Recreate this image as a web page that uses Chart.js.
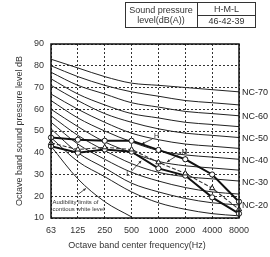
<!DOCTYPE html>
<html><head><meta charset="utf-8">
<script src="https://cdn.jsdelivr.net/npm/chart.js@4"></script>
<style>html,body{margin:0;padding:0;background:#fff;overflow:hidden}#wrap{width:270px;height:257px;position:relative}</style>
</head><body><div id="wrap"><canvas id="c" width="270" height="257"></canvas></div>
<script>
// ---- data ----
const freqLabels = ['63','125','250','500','1000','2000','4000','8000'];
const yTicks = [10,20,30,40,50,60,70,80,90];
const nc70 = [83,79,75,72,71,70,69,68];
const nc65 = [80,75,71,68,66,64,63,62];
const nc60 = [77,71,67,63,61,59,58,57];
const nc55 = [74,67,62,58,56,54,53,52];
const nc50 = [71,64,58,54,51,49,48,47];
const nc45 = [67,60,54,49,46,44,43,42];
const nc40 = [64,56,50,45,41,39,38,37];
const nc35 = [60,52,45,40,36,34,33,32];
const nc30 = [57,48,41,35,31,29,28,27];
const nc25 = [54,44,37,31,27,24,22,21];
const nc20 = [51,40,33,26,22,19,17,16];
const nc15 = [47,36,29,22,17,14,12,11];
const seriesH = [47,46,45.5,45.5,41.3,37,30,17.5];
const seriesM = [44.5,41.5,42.5,41.5,35.6,30.5,23.7,14];
const seriesL = [43,40,41.5,40.5,32.8,29.5,19.5,12];
const audibility = [43,28,17.5,10.5,null,null,null,null];
const ncLabels = ['NC-70','NC-60','NC-50','NC-40','NC-30','NC-20'];
const ncLabelCurves = [nc70,nc60,nc50,nc40,nc30,nc20];
const tableLeft = ['Sound pressure','level(dB(A))'];
const tableRight = ['H-M-L','46-42-39'];
const xTitle = 'Octave band center frequency(Hz)';
const yTitle = 'Octave band sound pressure level dB';
const audText = ['Audibility limits of','contious white level'];

const FONT = '"Liberation Sans", Arial, sans-serif';
const ncCurves = [nc70,nc65,nc60,nc55,nc50,nc45,nc40,nc35,nc30,nc25,nc20,nc15];

const datasets = [
  {data: seriesH, borderColor:'#111', borderWidth:2, pointStyle:'circle', pointRadius:2.6, pointBackgroundColor:'#fff', pointBorderColor:'#111', pointBorderWidth:1},
  {data: seriesM, borderColor:'#333', borderWidth:1.1, borderDash:[4,2], pointStyle:'triangle', pointRadius:3, pointBackgroundColor:'#fff', pointBorderColor:'#111', pointBorderWidth:1},
  {data: seriesL, borderColor:'#111', borderWidth:2, pointStyle:'circle', pointRadius:2.6, pointBackgroundColor:'#fff', pointBorderColor:'#111', pointBorderWidth:1},
  {data: audibility, borderColor:'#222', borderWidth:1, pointRadius:0, cubicInterpolationMode:'monotone'}
].concat(ncCurves.map(c=>({data:c, borderColor:'#222', borderWidth:1, pointRadius:0, cubicInterpolationMode:'monotone'})));

function arrow(ctx, x1,y1,x2,y2, head){
  ctx.beginPath(); ctx.moveTo(x1,y1); ctx.lineTo(x2,y2); ctx.stroke();
  const ang = Math.atan2(y2-y1, x2-x1);
  ctx.beginPath();
  ctx.moveTo(x2,y2);
  ctx.lineTo(x2-head*Math.cos(ang-0.45), y2-head*Math.sin(ang-0.45));
  ctx.lineTo(x2-head*Math.cos(ang+0.45), y2-head*Math.sin(ang+0.45));
  ctx.closePath(); ctx.fill();
}

const annot = {
  id:'annot',
  afterDraw(chart){
    const {ctx, chartArea:a, scales:{x,y}} = chart;
    const px = v => a.left + v*(a.right-a.left)/(freqLabels.length-1);
    ctx.save();
    ctx.strokeStyle='#111'; ctx.lineWidth=1.5;
    ctx.strokeRect(a.left, a.top, a.right-a.left, a.bottom-a.top);
    // NC labels
    ctx.fillStyle='#222'; ctx.font='9px '+FONT; ctx.textBaseline='middle'; ctx.textAlign='left';
    ncLabelCurves.forEach((c,i)=>ctx.fillText(ncLabels[i], a.right+3, y.getPixelForValue(c[c.length-1])+1));
    // x title
    ctx.textAlign='center';
    ctx.fillStyle='#333';
    ctx.fillText(xTitle, 137, 246);
    // table
    ctx.strokeStyle='#333'; ctx.lineWidth=1;
    ctx.strokeRect(125.5,2.5,130,25);
    ctx.beginPath(); ctx.moveTo(197.5,2.5); ctx.lineTo(197.5,27.5); ctx.moveTo(197.5,15.5); ctx.lineTo(255.5,15.5); ctx.stroke();
    ctx.fillStyle='#333'; ctx.font='9px '+FONT;
    ctx.fillText(tableLeft[0], 161, 11);
    ctx.fillText(tableLeft[1], 161, 20.5);
    ctx.fillText(tableRight[0], 226.5, 9.5);
    ctx.fillText(tableRight[1], 226.5, 22);
    // H M L labels
    ctx.font='7px '+FONT; ctx.fillStyle='#222'; ctx.strokeStyle='#222'; ctx.lineWidth=0.8;
    ctx.fillText('H', px(3.93), y.getPixelForValue(47.6));
    arrow(ctx, px(3.78), y.getPixelForValue(46.4), px(3.38), y.getPixelForValue(44), 3);
    ctx.fillText('M', px(4.98), y.getPixelForValue(40.5));
    arrow(ctx, px(4.86), y.getPixelForValue(40), px(4.32), y.getPixelForValue(35.8), 3);
    ctx.fillText('L', px(2.87), y.getPixelForValue(30.2));
    arrow(ctx, px(2.98), y.getPixelForValue(31.3), px(3.36), y.getPixelForValue(36.3), 3);
    // audibility text
    ctx.font='6px '+FONT; ctx.textAlign='left'; ctx.fillStyle='#333';
    ctx.fillText(audText[0], a.left+1.5, y.getPixelForValue(17.3));
    ctx.fillText(audText[1], a.left+1.5, y.getPixelForValue(13.8));
    ctx.lineWidth=0.8;
    arrow(ctx, px(1.0), y.getPixelForValue(20.8), px(1.3), y.getPixelForValue(23.6), 3);
    ctx.restore();
  }
};

new Chart(document.getElementById('c'), {
  type:'line',
  data:{labels:freqLabels, datasets},
  options:{
    responsive:false, animation:false, devicePixelRatio:1,
    layout:{padding:{top:44,right:31,left:0,bottom:0}},
    plugins:{legend:{display:false}, tooltip:{enabled:false}},
    scales:{
      x:{type:'category', offset:false,
        grid:{color:'#333', lineWidth:1, drawTicks:false},
        border:{display:false, dash:[2,2]},
        ticks:{color:'#333', font:{size:9, family:FONT}, padding:7, maxRotation:0, autoSkip:false},
        afterFit(s){ s.height = 39; }
      },
      y:{min:10, max:90,
        afterBuildTicks(s){ s.ticks = yTicks.map(v=>({value:v})); },
        grid:{color:'#333', lineWidth:1, drawTicks:false},
        border:{display:false, dash:[2,2]},
        ticks:{color:'#333', font:{size:9, family:FONT}, padding:7},
        title:{display:true, text:yTitle, color:'#333', font:{size:9, family:FONT}, padding:{top:14,bottom:0}},
        afterFit(s){ s.width = 51; }
      }
    }
  },
  plugins:[annot]
});
</script></body></html>
